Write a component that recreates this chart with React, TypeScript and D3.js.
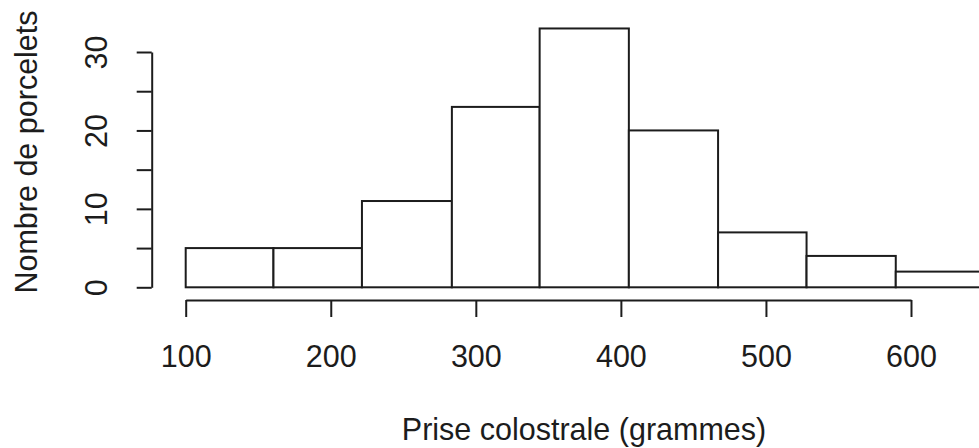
import React, { useEffect, useRef } from 'react';
import * as d3 from 'd3';

// bornes des classes (grammes) et effectifs
const binEdges = [100, 160.5, 221.5, 283.5, 344, 405.5, 467, 528, 589.5, 651];
const counts = [5, 5, 11, 23, 33, 20, 7, 4, 2];
const xTicks = [100, 200, 300, 400, 500, 600];
const yTicks = [0, 5, 10, 15, 20, 25, 30];
const yLabels = [0, 10, 20, 30];

const xTitle = 'Prise colostrale (grammes)';
const yTitle = 'Nombre de porcelets';

const App = () => {
  const svgRef = useRef<SVGSVGElement>(null);
  const width = 979;
  const height = 448;
  const ink = '#1c1c1c';
  const font = '"Liberation Sans", Arial, sans-serif';
  const fontSize = 30.5;

  useEffect(() => {
    const svg = d3.select(svgRef.current);
    svg.selectAll('*').remove();
    svg.attr('width', width).attr('height', height);

    svg.append('rect').attr('width', width).attr('height', height).attr('fill', '#fff');

    // échelles
    const x = d3.scaleLinear().domain([100, 600]).range([185.7, 911]);
    const y = d3.scaleLinear().domain([0, 30]).range([287.3, 52]);

    // barres
    const bins = counts.map((c, i) => ({ x0: binEdges[i], x1: binEdges[i + 1], n: c }));
    svg.append('g')
      .selectAll('rect')
      .data(bins)
      .enter()
      .append('rect')
      .attr('x', d => x(d.x0))
      .attr('y', d => y(d.n))
      .attr('width', d => x(d.x1) - x(d.x0))
      .attr('height', d => y(0) - y(d.n))
      .attr('fill', '#fff')
      .attr('stroke', ink)
      .attr('stroke-width', 2);

    // axe x
    const gx = svg.append('g')
      .attr('transform', 'translate(0,300)')
      .call(d3.axisBottom(x).tickValues(xTicks).tickSizeInner(17).tickSizeOuter(0).tickFormat(d3.format('d')));
    gx.select('.domain').attr('stroke', ink).attr('stroke-width', 2);
    gx.selectAll('.tick line').attr('stroke', ink).attr('stroke-width', 2);
    gx.selectAll('.tick text')
      .attr('fill', ink)
      .attr('dy', null)
      .attr('y', 67)
      .style('font-family', font)
      .style('font-size', `${fontSize}px`);

    // axe y
    const gy = svg.append('g')
      .attr('transform', 'translate(151.7,0)')
      .call(d3.axisLeft(y).tickValues(yTicks).tickSizeInner(15).tickSizeOuter(0)
        .tickFormat(d => (yLabels.includes(+d) ? String(d) : '')));
    gy.select('.domain').attr('stroke', ink).attr('stroke-width', 2);
    gy.selectAll('.tick line').attr('stroke', ink).attr('stroke-width', 2);
    gy.selectAll('.tick text')
      .attr('fill', ink)
      .attr('x', null)
      .attr('dy', null)
      .attr('text-anchor', 'middle')
      .attr('transform', 'translate(-45,0) rotate(-90)')
      .style('font-family', font)
      .style('font-size', `${fontSize}px`);

    // titres
    svg.append('text')
      .attr('x', 584)
      .attr('y', 440)
      .attr('text-anchor', 'middle')
      .attr('fill', ink)
      .style('font-family', font)
      .style('font-size', `${fontSize}px`)
      .text(xTitle);

    svg.append('text')
      .attr('transform', `translate(37,152) rotate(-90)`)
      .attr('text-anchor', 'middle')
      .attr('fill', ink)
      .style('font-family', font)
      .style('font-size', `${fontSize}px`)
      .text(yTitle);
  }, []);

  return (
    <div style={{ position: 'absolute', left: 0, top: 0, width, height, overflow: 'hidden' }}>
      <svg ref={svgRef} style={{ display: 'block' }} />
    </div>
  );
};

export default App;
